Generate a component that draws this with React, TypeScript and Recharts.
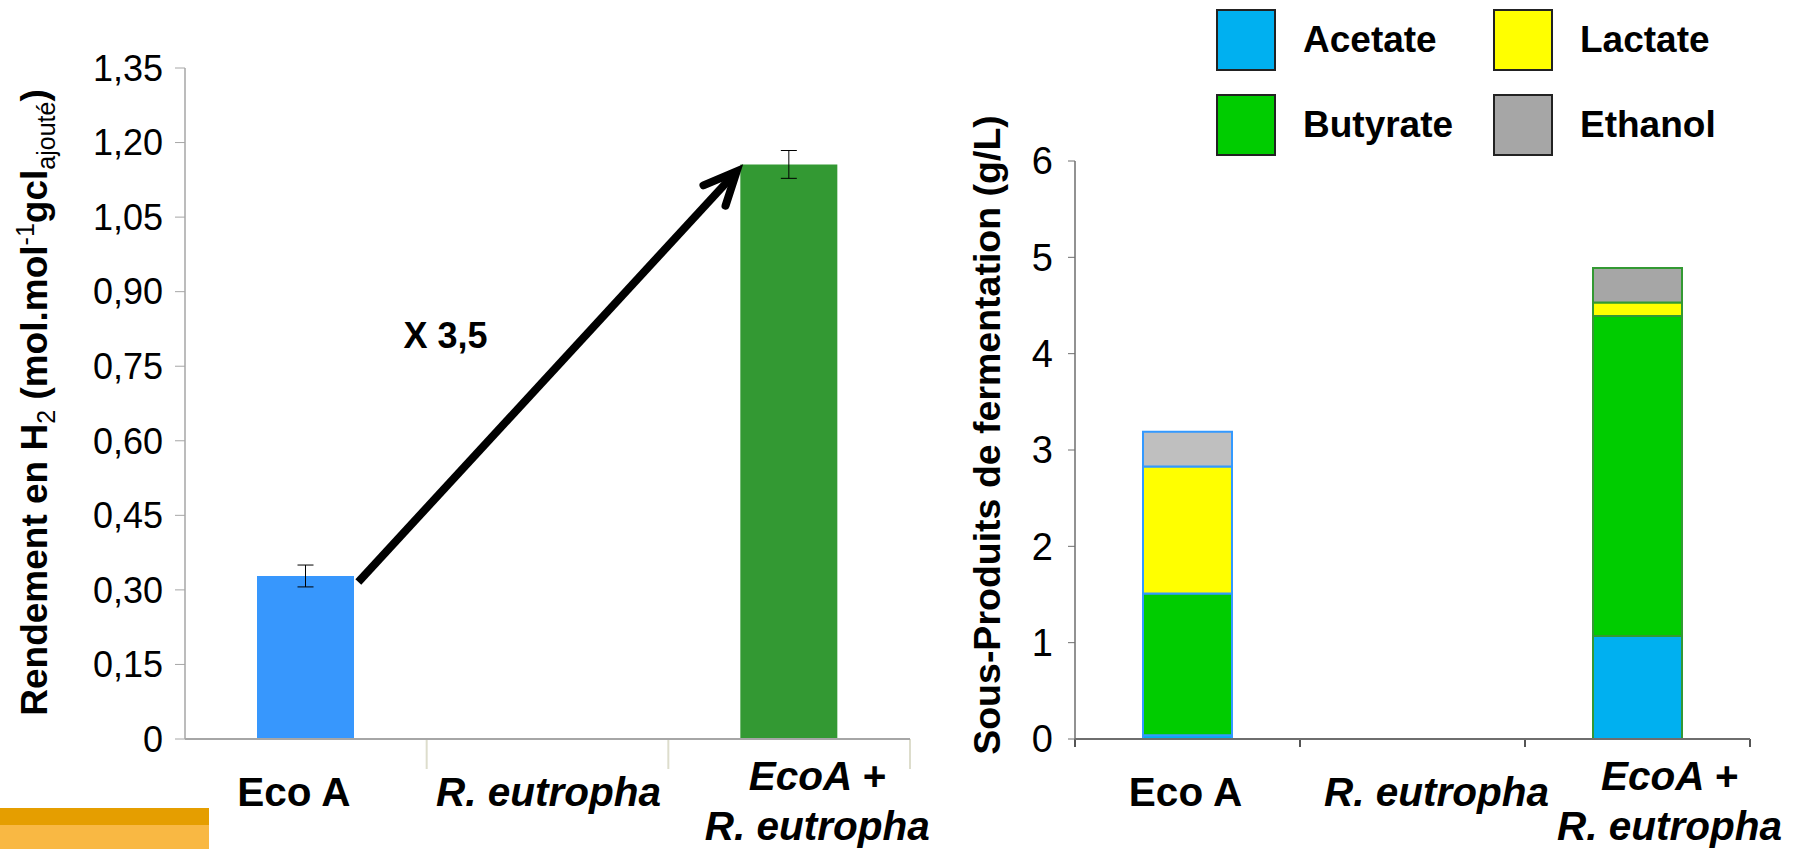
import React from "react"
import {
  BarChart, Bar, XAxis, YAxis, Cell, ErrorBar, ReferenceLine, Legend,
} from "recharts"

const FONT = "'Liberation Sans', Arial, sans-serif"

const categories = ["Eco A", "R. eutropha", "EcoA + R. eutropha"]
const italicCats = [false, true, true]

// Rendement en H2 (mol/mol gcl ajouté)
const h2Yield = [0.328, 0, 1.156]
const h2Err = [0.022, null, 0.028]
const yieldTicks = [0, 0.15, 0.3, 0.45, 0.6, 0.75, 0.9, 1.05, 1.2, 1.35]
const foldLabel = "X 3,5"

// Sous-produits de fermentation (g/L)
const acetate = [0.04, 0, 1.07]
const butyrate = [1.47, 0, 3.32]
const lactate = [1.32, 0, 0.14]
const ethanol = [0.36, 0, 0.36]
const productTicks = [0, 1, 2, 3, 4, 5, 6]
const legendOrder = ["Acetate", "Butyrate", "Lactate", "Ethanol"]

const yieldColors = ["#3797FD", "#3797FD", "#339933"]
const outline = ["#3399FF", "none", "#339933"]
const ethanolFill = ["#BFBFBF", "#A6A6A6", "#A6A6A6"]

const yieldData = categories.map((name, i) => ({ name, value: h2Yield[i], err: h2Err[i] }))
const productData = categories.map((name, i) => ({
  name, acetate: acetate[i], butyrate: butyrate[i], lactate: lactate[i], ethanol: ethanol[i],
}))

const BAR_W = 97

function fmtComma(v: number) {
  return v === 0 ? "0" : v.toFixed(2).replace(".", ",")
}

function makeCatTick(shift: number[]) {
  return function CatTick(props: any) {
    const { x, y, payload } = props
    const label: string = payload.value
    const i = categories.indexOf(label)
    const lines = label.includes("+ ") ? label.replace("+ ", "+\n").split("\n") : [label]
    const cx = x + (shift[i] || 0)
    const first = lines.length > 1 ? 51 : 67
    return (
      <text x={cx} y={y + first} textAnchor="middle" fontFamily={FONT} fontWeight="bold"
        fontStyle={italicCats[i] ? "italic" : "normal"} fontSize={40.5} fill="#000">
        {lines.map((l, k) => (
          <tspan key={k} x={cx} dy={k === 0 ? 0 : 50}>{l}</tspan>
        ))}
      </text>
    )
  }
}

function boundaryTick(len: number, color: string) {
  return (p: any) => {
    const yb = Math.max(p.y1, p.y2)
    return <line x1={p.x1} x2={p.x1} y1={yb} y2={yb + len} stroke={color} strokeWidth={2} />
  }
}

function FoldArrow(p: any) {
  const x1 = p.x1 + BAR_W / 2 + 4
  const y1 = p.y1 + 6
  const x2 = p.x2 - BAR_W / 2 - 4
  const y2 = p.y2 + 7
  const ang = Math.atan2(y2 - y1, x2 - x1)
  const head = 36
  const spread = 0.43
  const h1 = [x2 + head * Math.cos(ang + Math.PI - spread), y2 + head * Math.sin(ang + Math.PI - spread)]
  const h2 = [x2 + head * Math.cos(ang + Math.PI + spread), y2 + head * Math.sin(ang + Math.PI + spread)]
  const mx = (x1 + x2) / 2
  const my = (y1 + y2) / 2
  return (
    <g>
      <line x1={x1} y1={y1} x2={x2 - 4 * Math.cos(ang)} y2={y2 - 4 * Math.sin(ang)} stroke="#000" strokeWidth={8} />
      <polyline points={`${h1[0]},${h1[1]} ${x2},${y2} ${h2[0]},${h2[1]}`} fill="none" stroke="#000"
        strokeWidth={8} strokeLinecap="round" strokeLinejoin="miter" />
      <text x={mx - 102} y={my - 29} textAnchor="middle" fontFamily={FONT} fontWeight="bold" fontSize={36} fill="#000">
        {foldLabel}
      </text>
    </g>
  )
}

function YieldLabel(props: any) {
  const vb = props.viewBox || { x: 65, y: 68, width: 120, height: 671 }
  const cx = vb.x - 18
  const cy = vb.y + vb.height / 2 - 1
  return (
    <text x={cx} y={cy} transform={`rotate(-90 ${cx} ${cy})`} textAnchor="middle"
      fontFamily={FONT} fontWeight="bold" fontSize={37} fill="#000">
      Rendement en H<tspan fontSize={25} fontWeight="normal" dy={8}>2</tspan>
      <tspan dy={-8}> (mol.mol</tspan>
      <tspan fontSize={25} fontWeight="normal" dy={-13}>-1</tspan>
      <tspan dy={13}>gcl</tspan>
      <tspan fontSize={25} fontWeight="normal" dy={8}>ajouté</tspan>
      <tspan dy={-8}>)</tspan>
    </text>
  )
}

function ProductLabel(props: any) {
  const vb = props.viewBox || { x: 85, y: 161, width: 90, height: 578 }
  const cx = vb.x + 15
  const cy = vb.y + vb.height / 2 - 15
  return (
    <text x={cx} y={cy} transform={`rotate(-90 ${cx} ${cy})`} textAnchor="middle"
      fontFamily={FONT} fontWeight="bold" fontSize={37.5} fill="#000">
      Sous-Produits de fermentation (g/L)
    </text>
  )
}

function ProductLegend({ payload }: any) {
  const items = [...(payload || [])].sort(
    (a: any, b: any) => legendOrder.indexOf(a.value) - legendOrder.indexOf(b.value),
  )
  return (
    <div style={{
      display: "grid", gridTemplateRows: "62px 62px", gridAutoFlow: "column",
      gridAutoColumns: "277px", rowGap: 23,
    }}>
      {items.map((e: any) => (
        <div key={e.value} style={{ display: "flex", alignItems: "center" }}>
          <span style={{
            width: 60, height: 62, boxSizing: "border-box", background: e.color,
            border: "2px solid #222", display: "inline-block",
          }} />
          <span style={{ marginLeft: 27, fontFamily: FONT, fontWeight: "bold", fontSize: 37, color: "#000" }}>
            {e.value}
          </span>
        </div>
      ))}
    </div>
  )
}

export default function App() {
  return (
    <div style={{ position: "absolute", left: 0, top: 0, width: 1799, height: 849, background: "#fff", overflow: "hidden" }}>
      <div style={{ position: "absolute", left: 0, top: 0 }}>
        <BarChart width={930} height={849} data={yieldData} margin={{ top: 68, right: 20, left: 65, bottom: 10 }}>
          <XAxis dataKey="name" interval={0} height={100} tickSize={0} tickMargin={0}
            axisLine={{ stroke: "#A6A6A6", strokeWidth: 2 }} tickLine={false}
            tick={makeCatTick([-12, 1, 28])} />
          <YAxis domain={[0, 1.35]} ticks={yieldTicks} interval={0} width={120}
            tickSize={10} tickMargin={12} tickFormatter={fmtComma}
            axisLine={{ stroke: "#A6A6A6", strokeWidth: 1.5 }} tickLine={{ stroke: "#A6A6A6" }}
            tick={{ fontFamily: FONT, fontSize: 36, fill: "#000" }}
            label={YieldLabel} />
          <Bar dataKey="value" barSize={BAR_W} isAnimationActive={false}>
            {yieldData.map((d, i) => <Cell key={d.name} fill={yieldColors[i]} />)}
            <ErrorBar dataKey="err" width={8} stroke="#000" strokeWidth={1} />
          </Bar>
          <ReferenceLine x={categories[1]} position="start" shape={boundaryTick(30, "#DDDDCC")} />
          <ReferenceLine x={categories[2]} position="start" shape={boundaryTick(30, "#DDDDCC")} />
          <ReferenceLine x={categories[2]} position="end" shape={boundaryTick(30, "#DDDDCC")} />
          <ReferenceLine
            segment={[{ x: categories[0], y: h2Yield[0] }, { x: categories[2], y: h2Yield[2] }]}
            shape={FoldArrow} />
        </BarChart>
      </div>

      <div style={{ position: "absolute", left: 900, top: 0 }}>
        <BarChart width={899} height={849} data={productData} margin={{ top: 161, right: 49, left: 85, bottom: 10 }}>
          <XAxis dataKey="name" interval={0} height={100} tickSize={0} tickMargin={0}
            axisLine={{ stroke: "#6E6E6E", strokeWidth: 2 }} tickLine={false}
            tick={makeCatTick([-2, 24, 32])} />
          <YAxis domain={[0, 6]} ticks={productTicks} interval={0} width={90}
            tickSize={7} tickMargin={15}
            axisLine={{ stroke: "#6E6E6E", strokeWidth: 1.5 }} tickLine={{ stroke: "#6E6E6E" }}
            tick={{ fontFamily: FONT, fontSize: 38, fill: "#000" }}
            label={ProductLabel} />
          <Legend layout="horizontal" verticalAlign="middle" align="center" content={ProductLegend}
            wrapperStyle={{ top: 9, left: 316, width: 560, height: 150 }} />
          <Bar dataKey="acetate" name="Acetate" stackId="a" fill="#00B0F0" barSize={89} isAnimationActive={false}>
            {productData.map((d, i) => <Cell key={d.name} stroke={outline[i]} strokeWidth={2} />)}
          </Bar>
          <Bar dataKey="butyrate" name="Butyrate" stackId="a" fill="#00CC00" barSize={89} isAnimationActive={false}>
            {productData.map((d, i) => <Cell key={d.name} stroke={outline[i]} strokeWidth={2} />)}
          </Bar>
          <Bar dataKey="lactate" name="Lactate" stackId="a" fill="#FFFF00" barSize={89} isAnimationActive={false}>
            {productData.map((d, i) => <Cell key={d.name} stroke={outline[i]} strokeWidth={2} />)}
          </Bar>
          <Bar dataKey="ethanol" name="Ethanol" stackId="a" fill="#A6A6A6" barSize={89} isAnimationActive={false}>
            {productData.map((d, i) => <Cell key={d.name} fill={ethanolFill[i]} stroke={outline[i]} strokeWidth={2} />)}
          </Bar>
          <ReferenceLine x={categories[0]} position="start" shape={boundaryTick(8, "#555")} />
          <ReferenceLine x={categories[1]} position="start" shape={boundaryTick(8, "#555")} />
          <ReferenceLine x={categories[2]} position="start" shape={boundaryTick(8, "#555")} />
          <ReferenceLine x={categories[2]} position="end" shape={boundaryTick(8, "#555")} />
        </BarChart>
      </div>

      <div style={{ position: "absolute", left: 0, top: 808, width: 209, height: 17, background: "#E59E00" }} />
      <div style={{ position: "absolute", left: 0, top: 825, width: 209, height: 24, background: "#F9B843" }} />
    </div>
  )
}
